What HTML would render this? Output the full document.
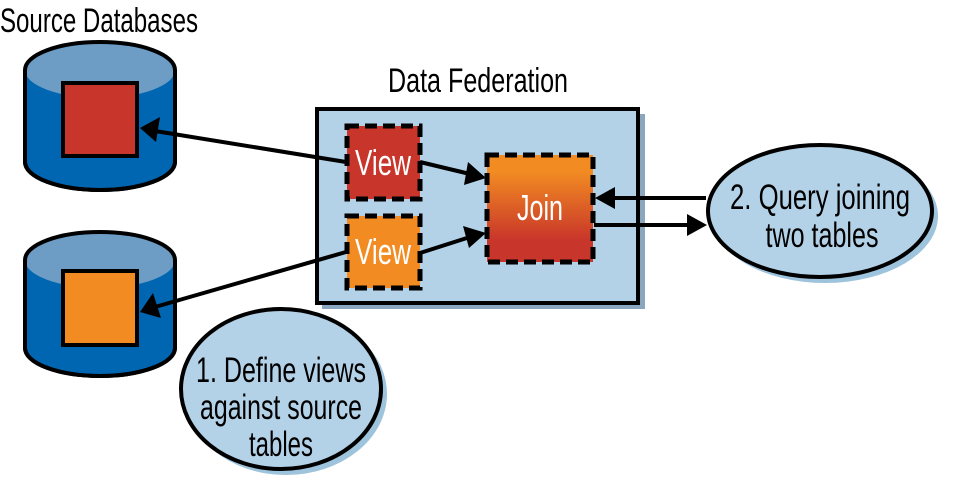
<!DOCTYPE html>
<html><head><meta charset="utf-8"><style>
html,body{margin:0;padding:0;background:#fff;width:959px;height:500px;overflow:hidden}
svg text{font-family:"Liberation Sans Narrow","Liberation Sans",sans-serif;}
</style></head><body>
<svg width="959" height="500" viewBox="0 0 959 500" xmlns="http://www.w3.org/2000/svg">
<defs>
<linearGradient id="jg" x1="0" y1="0" x2="0" y2="1">
<stop offset="0.15" stop-color="#f28c22"/>
<stop offset="0.8" stop-color="#c8352a"/>
</linearGradient>
</defs>
<text x="0" y="32" font-size="34" textLength="198" lengthAdjust="spacingAndGlyphs">Source Databases</text>
<text x="388" y="92" font-size="34" textLength="180" lengthAdjust="spacingAndGlyphs">Data Federation</text>

<g stroke="#000" stroke-width="4">
<path d="M25 70 L25 162 A75 28 0 0 0 175 162 L175 70" fill="#0066b1"/>
<ellipse cx="100" cy="70" rx="75" ry="28" fill="#6d9cc4" stroke="none"/>
<path d="M25 70 A75 28 0 0 1 175 70" fill="none"/>
<path d="M25 70 L25 162 A75 28 0 0 0 175 162 L175 70" fill="none"/>
<rect x="63" y="83" width="74" height="73" fill="#c8352a"/>
</g>
<g stroke="#000" stroke-width="4">
<path d="M25 260 L25 348 A75 28 0 0 0 175 348 L175 260" fill="#0066b1"/>
<ellipse cx="100" cy="260" rx="75" ry="28" fill="#6d9cc4" stroke="none"/>
<path d="M25 260 A75 28 0 0 1 175 260" fill="none"/>
<path d="M25 260 L25 348 A75 28 0 0 0 175 348 L175 260" fill="none"/>
<rect x="63" y="271" width="74" height="74" fill="#f28c22"/>
</g>

<rect x="322" y="114" width="323" height="195" fill="#8aa7bf"/>
<rect x="317" y="109" width="321" height="194" fill="#b3d1e7" stroke="#000" stroke-width="4"/>

<g stroke="#000" stroke-width="5" stroke-dasharray="12 6">
<rect x="347" y="126" width="73" height="73" fill="#c8352a"/>
<rect x="347" y="216" width="73" height="72" fill="#f28c22"/>
<rect x="487" y="155" width="106" height="107" fill="url(#jg)"/>
</g>
<g fill="#fff" font-size="36" text-anchor="middle">
<text x="383" y="175" textLength="56" lengthAdjust="spacingAndGlyphs">View</text>
<text x="383" y="264" textLength="56" lengthAdjust="spacingAndGlyphs">View</text>
<text x="540" y="220" textLength="46" lengthAdjust="spacingAndGlyphs">Join</text>
</g>

<ellipse cx="286" cy="394" rx="101" ry="81" fill="#9ec3dd"/>
<ellipse cx="281" cy="389" rx="100" ry="80" fill="#b3d1e7" stroke="#000" stroke-width="4"/>
<ellipse cx="825" cy="216" rx="113" ry="67" fill="#9ec3dd"/>
<ellipse cx="820" cy="211" rx="112" ry="66" fill="#b3d1e7" stroke="#000" stroke-width="4"/>
<g font-size="35" text-anchor="middle" fill="#000">
<text x="281" y="382" textLength="170" lengthAdjust="spacingAndGlyphs">1. Define views</text>
<text x="281" y="419" textLength="162" lengthAdjust="spacingAndGlyphs">against source</text>
<text x="281" y="456" textLength="64" lengthAdjust="spacingAndGlyphs">tables</text>
<text x="820" y="209" textLength="180" lengthAdjust="spacingAndGlyphs">2. Query joining</text>
<text x="822" y="247" textLength="113" lengthAdjust="spacingAndGlyphs">two tables</text>
</g>

<g stroke="#000" stroke-width="4" fill="none">
<line x1="346" y1="162" x2="155" y2="131"/>
<line x1="346" y1="252" x2="155" y2="307"/>
<line x1="420" y1="162" x2="470" y2="174"/>
<line x1="420" y1="253" x2="470" y2="237"/>
<line x1="706" y1="198" x2="610" y2="198"/>
<line x1="594" y1="225" x2="690" y2="225"/>
</g>
<g fill="#000">
<polygon points="140,128 160,117 156,142"/>
<polygon points="140,312 153,293 161,318"/>
<polygon points="486,178 464,185 468,162"/>
<polygon points="486,233 469,248 463,226"/>
<polygon points="595,198 615,187 615,209"/>
<polygon points="707,225 687,214 687,236"/>
</g>
</svg>
</body></html>
